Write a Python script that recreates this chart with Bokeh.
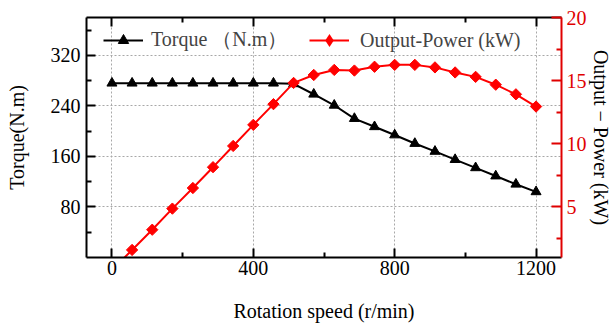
import numpy as np
from bokeh.plotting import figure
from bokeh.models import (Range1d, LinearAxis, FixedTicker, Legend, LegendItem,
                          ColumnDataSource, CustomLabelingPolicy)
from bokeh.embed import file_html
from bokeh.resources import INLINE

# ---- data ----
speed = [0, 57, 114, 171, 229, 286, 343, 400, 457, 514, 571, 629, 686, 743,
         800, 857, 914, 971, 1029, 1086, 1143, 1200]
torque = [276, 276, 276, 276, 276, 276, 276, 276, 276, 275, 258.5, 241, 220,
          207, 194, 180.5, 168, 155, 142, 129, 116, 104]
power = [0, 1.6, 3.2, 4.87, 6.5, 8.15, 9.83, 11.5, 13.14, 14.82, 15.45, 15.85,
         15.8, 16.1, 16.25, 16.25, 16.05, 15.65, 15.3, 14.68, 13.92, 12.95]

x_ticks = [0, 400, 800, 1200]
x_minor = [200, 600, 1000]
t_ticks = [80, 160, 240, 320]
t_minor = [40, 120, 200, 280, 360]
p_ticks = [5, 10, 15, 20]
p_minor = [2.5, 7.5, 12.5, 17.5]

FONT = "Liberation Serif"
RED = "#FF0000"
AXRED = "#E00000"

src = ColumnDataSource(dict(speed=speed, torque=torque, power=power))

p = figure(frame_width=475, frame_height=240, output_backend="svg",
           toolbar_location=None,
           x_range=Range1d(-72, 1272), y_range=Range1d(0, 380),
           min_border_left=86, min_border_right=50, min_border_top=17,
           min_border_bottom=67, x_axis_location=None, y_axis_location=None)
p.outline_line_color = None
p.extra_y_ranges = {"power": Range1d(1, 20)}

def style_axis(ax, ticks, minor, color="black", tin=9, min_in=5):
    ax.ticker = FixedTicker(ticks=ticks, minor_ticks=minor)
    ax.axis_line_width = 2
    ax.axis_line_color = color
    ax.major_tick_line_color = color
    ax.minor_tick_line_color = color
    ax.major_tick_line_width = 2
    ax.minor_tick_line_width = 2
    ax.major_tick_in = tin
    ax.major_tick_out = 0
    ax.minor_tick_in = min_in
    ax.minor_tick_out = 0
    ax.major_label_text_font = FONT
    ax.major_label_text_font_size = "20px"
    ax.major_label_text_color = color
    ax.axis_label_text_font = FONT
    ax.axis_label_text_font_size = "20px"
    ax.axis_label_text_font_style = "normal"
    ax.axis_label_text_color = "black"

xb = LinearAxis(axis_label="Rotation speed (r/min)")
style_axis(xb, x_ticks, x_minor)
xb.major_label_standoff = 3
xb.axis_label_standoff = 22
p.add_layout(xb, "below")

xt = LinearAxis()
style_axis(xt, x_ticks, x_minor)
xt.major_label_policy = CustomLabelingPolicy(code="return []")
xt.major_label_standoff = 0
p.add_layout(xt, "above")

yl = LinearAxis(axis_label="Torque(N.m)")
style_axis(yl, t_ticks, t_minor)
yl.major_label_standoff = 6
yl.axis_label_standoff = 20
p.add_layout(yl, "left")

yr = LinearAxis(y_range_name="power", axis_label="Output \u2212 Power (kW)")
style_axis(yr, p_ticks, p_minor, color=AXRED, tin=10)
yr.major_label_standoff = 5
yr.axis_label_standoff = 0
p.add_layout(yr, "right")

p.xgrid.ticker = FixedTicker(ticks=x_ticks)
p.ygrid.ticker = FixedTicker(ticks=t_ticks)
for g in (p.xgrid, p.ygrid):
    g.grid_line_color = "#A8A8A8"
    g.grid_line_dash = "2 2"
    g.grid_line_width = 1

l1 = p.line("speed", "torque", source=src, line_color="black", line_width=2)
m1 = p.scatter("speed", "torque", source=src, marker="triangle", size=10,
               fill_color="black", line_color="black")
l2 = p.line("speed", "power", source=src, line_color=RED, line_width=2,
            y_range_name="power")
m2 = p.scatter("speed", "power", source=src, marker="square", size=8,
               angle=np.pi / 4, fill_color=RED, line_color=RED,
               y_range_name="power")
# legend proxy: legend glyphs are drawn unrotated and sized from the legend box,
# so a zero-size diamond renderer supplies the legend's diamond symbol
m2_leg = p.scatter("speed", "power", source=src, marker="diamond", size=0,
                   fill_color=RED, line_color=None, y_range_name="power")

def make_legend(label, rends, loc, standoff, gh):
    lg = Legend(items=[LegendItem(label=label, renderers=rends)],
                location=loc, orientation="horizontal",
                border_line_color=None, background_fill_alpha=0,
                padding=0, margin=0, spacing=0,
                glyph_width=40, glyph_height=gh, label_standoff=standoff,
                label_text_font=FONT, label_text_font_size="20px",
                label_height=20)
    p.add_layout(lg, "center")

make_legend("Torque \uff08N.m\uff09", [l1, m1], (17, 204), 8, 26)
make_legend("Output-Power (kW)", [l2, m2_leg], (223, 201), 11, 32)

open("out.html", "w").write(file_html(p, INLINE))
